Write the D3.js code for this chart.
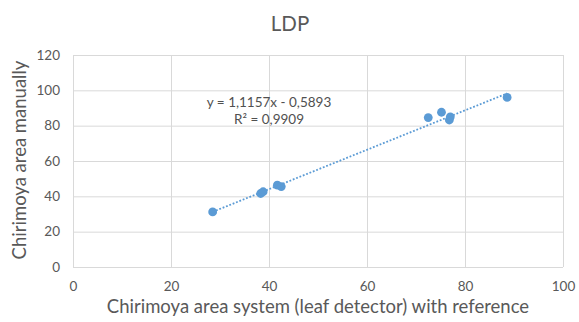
<!DOCTYPE html>
<html>
<head>
<meta charset="utf-8">
<script src="https://cdn.jsdelivr.net/npm/d3@7"></script>
<style>
  html, body { margin: 0; padding: 0; background: #fff; }
  svg { display: block; font-family: Lato, "Open Sans", sans-serif; }
</style>
</head>
<body>
<svg id="chart" width="579" height="322"></svg>
<script>
// Leaf area: system measurement (x) vs manual measurement (y)
const systemArea = [28.5, 38.3, 38.8, 41.7, 42.5, 72.5, 75.2, 76.8, 77.0, 88.6];
const manualArea = [31.2, 41.6, 42.6, 46.3, 45.5, 84.6, 87.6, 83.2, 85.0, 96.0];
const xTicks = [0, 20, 40, 60, 80, 100];
const yTicks = [0, 20, 40, 60, 80, 100, 120];
const slope = 1.1157, intercept = -0.5893;
const equationLines = ["y = 1,1157x - 0,5893", "R² = 0,9909"];

const svg = d3.select("#chart");
const x = d3.scaleLinear().domain([0, 100]).range([73, 563]);
const y = d3.scaleLinear().domain([0, 120]).range([267, 55]);

const grid = "#d9d9d9", tickText = "#595959";

// vertical gridlines
svg.append("g").attr("class", "x-grid")
  .attr("transform", `translate(0,${y(0)})`)
  .call(d3.axisBottom(x).tickValues(xTicks).tickSize(-(y(0) - y(120))).tickFormat(""))
  .call(g => g.select(".domain").remove())
  .call(g => g.selectAll("line").attr("stroke", grid));

// horizontal gridlines
svg.append("g").attr("class", "y-grid")
  .attr("transform", `translate(${x(0)},0)`)
  .call(d3.axisLeft(y).tickValues(yTicks).tickSize(-(x(100) - x(0))).tickFormat(""))
  .call(g => g.select(".domain").remove())
  .call(g => g.selectAll("line").attr("stroke", grid));

// tick labels
svg.append("g")
  .attr("transform", `translate(0,${y(0)})`)
  .call(d3.axisBottom(x).tickValues(xTicks).tickSize(0).tickPadding(14))
  .call(g => g.select(".domain").remove())
  .call(g => g.selectAll("text").attr("fill", tickText).attr("font-size", 13.5).attr("font-family", "Lato, sans-serif"));

svg.append("g")
  .attr("transform", `translate(${x(0)},0)`)
  .call(d3.axisLeft(y).tickValues(yTicks).tickSize(0).tickPadding(13))
  .call(g => g.select(".domain").remove())
  .call(g => g.selectAll("text").attr("fill", tickText).attr("font-size", 13.5).attr("font-family", "Lato, sans-serif"));

// linear trendline across the data range
const xMin = d3.min(systemArea), xMax = d3.max(systemArea);
svg.append("line")
  .attr("x1", x(xMin)).attr("y1", y(slope * xMin + intercept))
  .attr("x2", x(xMax)).attr("y2", y(slope * xMax + intercept))
  .attr("stroke", "#5b9bd5").attr("stroke-width", 1.8)
  .attr("stroke-dasharray", "1.8,1.8");

// points
svg.append("g").selectAll("circle")
  .data(systemArea.map((v, i) => [v, manualArea[i]]))
  .join("circle")
  .attr("cx", d => x(d[0])).attr("cy", d => y(d[1]))
  .attr("r", 4.4).attr("fill", "#5b9bd5");

// regression equation
svg.append("text")
  .attr("y", 107)
  .attr("text-anchor", "middle").attr("fill", "#505050").attr("font-size", 13.5)
  .selectAll("tspan").data(equationLines).join("tspan")
  .attr("x", 269).attr("dy", (d, i) => i === 0 ? 0 : 17)
  .text(d => d);

// title
svg.append("text")
  .attr("x", 290).attr("y", 31)
  .attr("text-anchor", "middle").attr("fill", "#595959").attr("font-size", 20.5)
  .text("LDP");

// axis titles
svg.append("text")
  .attr("x", 318).attr("y", 313)
  .attr("text-anchor", "middle").attr("fill", "#595959").attr("font-size", 18.5)
  .text("Chirimoya area system (leaf detector) with reference");

svg.append("text")
  .attr("transform", "translate(26,160) rotate(-90)")
  .attr("text-anchor", "middle").attr("fill", "#595959").attr("font-size", 18.5)
  .text("Chirimoya area manually");
</script>
</body>
</html>
